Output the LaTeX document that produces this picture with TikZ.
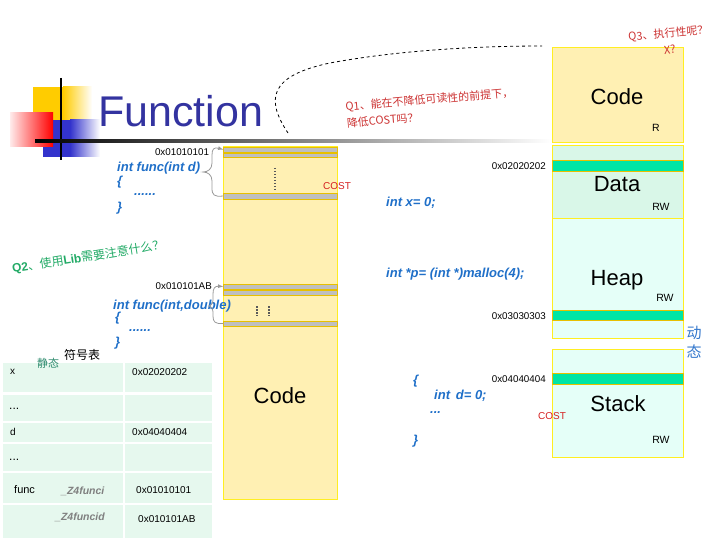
\documentclass[tikz,border=0pt]{standalone}
\usepackage{fontspec}
\setmainfont{Liberation Sans}
\newfontfamily\cjk{Noto Sans CJK SC}
\usetikzlibrary{positioning}
\definecolor{TitleBlue}{HTML}{3333A0}
\definecolor{CodeBlue}{HTML}{1F6FC8}
\definecolor{CostRed}{HTML}{D42020}
\definecolor{QRed}{HTML}{CC3333}
\definecolor{QGreen}{HTML}{22AA66}
\definecolor{StaticGreen}{HTML}{2E8B6E}
\definecolor{DynBlue}{HTML}{3377CC}
\definecolor{CodeFill}{HTML}{FFF0B3}
\definecolor{DataFill}{HTML}{D9F7E8}
\definecolor{HeapFill}{HTML}{E5FFF8}
\definecolor{SegEdge}{HTML}{FFEE22}
\definecolor{MarkGreen}{HTML}{00E5A5}
\definecolor{MarkEdge}{HTML}{E8C000}
\definecolor{CellFill}{HTML}{E6F8EE}
\definecolor{LogoYellow}{HTML}{FFCC00}
\definecolor{LogoBlue}{HTML}{3333CC}
\definecolor{LogoRed}{HTML}{FF0000}

\begin{document}
\begin{tikzpicture}[x=1pt, y=-1pt,
                    memseg/.style = { draw=SegEdge, line width=1pt, minimum width=131pt, inner sep=0pt },
                    markbar/.style = { fill=MarkGreen, draw=MarkEdge, minimum width=131pt, inner sep=0pt },
                    graybar/.style = { fill=gray!50, draw=MarkEdge, minimum width=114pt, inner sep=0pt },
                    segname/.style = { font=\fontsize{22}{26}\selectfont, inner sep=0pt },
                    rw/.style = { font=\fontsize{10.5}{12}\selectfont, inner sep=0pt },
                    addr/.style = { font=\fontsize{9.8}{11}\selectfont, inner sep=0pt },
                    srccode/.style = { CodeBlue, anchor=west, font=\fontsize{13}{15}\selectfont\bfseries\itshape, inner sep=0pt },
                    cost/.style = { CostRed, font=\fontsize{10}{12}\selectfont, inner sep=0pt },
                    qred/.style = { QRed, font=\cjk\fontsize{11}{16.5}\selectfont, inner sep=0pt },
                    tabtext/.style = { anchor=west, font=\fontsize{10}{12}\selectfont, inner sep=0pt },
                    mangled/.style = { tabtext, gray, font=\fontsize{10.5}{12}\selectfont\bfseries\itshape },
                    dotline/.style = { gray!70!black, line width=2pt, dash pattern=on 1.5pt off 1.5pt },
                    brc/.style = { gray!80, thick, -latex }]
  \useasboundingbox (0,0) rectangle (720,540);

  % logo and title rule
  \fill[LogoYellow] (33,87) rectangle (63,120);
  \shade[left color=LogoYellow, right color=white] (63,87) rectangle (92,120);
  \fill[LogoBlue] (43,120) rectangle (70,157);
  \shade[left color=LogoBlue, right color=white] (70,120) rectangle (100,157);
  \shade[left color=red!8, right color=LogoRed] (10,113) rectangle (53,147);
  \draw[line width=1.8pt] (61,78) -- (61,160);
  \shade[left color=black, right color=white] (35,140) rectangle (552,142.2);
  \node[anchor=base west, TitleBlue, font=\fontsize{43}{48}\selectfont, inner sep=0pt] (title) at (98,127) {Function};

  % dashed hint
  \coordinate (dashA) at (288,133);
  \coordinate (dashB) at (542,46);
  \draw[dashed, thick] (dashA) .. controls (266,100) and (268,76) .. (330,63) .. controls (400,50) and (480,46) .. (dashB);
  \node[qred, rotate=5, anchor=west, align=left] (q1) at (346,115) {Q1、能在不降低可读性的前提下，\\降低COST吗？};

  % memory segments
  \node[memseg, fill=CodeFill, minimum height=95pt] (codeseg) at (617.5,95.5) {};
  \node[memseg, fill=DataFill, minimum height=73pt] (dataseg) at (617.5,182.5) {};
  \node[memseg, fill=HeapFill, minimum height=119pt] (heapseg) at (617.5,278.5) {};
  \node[memseg, fill=HeapFill, minimum height=108pt] (stackseg) at (617.5,403) {};
  \node[markbar, minimum height=11pt] (dmark) at (617.5,165.5) {};
  \node[markbar, minimum height=10pt] (hmark) at (617.5,315) {};
  \node[markbar, minimum height=11pt] (smark) at (617.5,378.5) {};
  \node[qred, rotate=5, align=center] (q3) at (669,41) {Q3、执行性呢？\\X?};

  \node[segname] (codename) at (617,97) {Code};
  \node[rw] (coder) at (656,128) {R};
  \node[segname] (dataname) at (617,184) {Data};
  \node[rw] (datarw) at (661,207) {RW};
  \node[segname] (heapname) at (617,280) {Heap};
  \node[rw] (heaprw) at (665,298) {RW};
  \node[segname] (stackname) at (618,404) {Stack};
  \node[rw] (stackrw) at (661,440) {RW};

  \node[addr, anchor=east] (addrdata) at (546,166) {0x02020202};
  \node[addr, anchor=east] (addrheap) at (546,316) {0x03030303};
  \node[addr, anchor=east] (addrstack) at (546,379) {0x04040404};
  \node[DynBlue, font=\cjk\fontsize{15}{19}\selectfont, align=center, inner sep=0pt] (dyn) at (694,342) {动\\态};

  % code column
  \node[fill=CodeFill, draw=SegEdge, minimum width=114pt, minimum height=353pt, inner sep=0pt] (codecol) at (280.5,322.5) {};
  \node[graybar, minimum height=5pt] (b1) at (280.5,149.5) {};
  \node[graybar, minimum height=4.5pt] (b2) at (280.5,155) {};
  \node[graybar, minimum height=6pt] (b3) at (280.5,196) {};
  \node[graybar, minimum height=5pt] (b4) at (280.5,286.5) {};
  \node[graybar, minimum height=5pt] (b5) at (280.5,292.5) {};
  \node[graybar, minimum height=5pt] (b6) at (280.5,323.5) {};
  \draw[dotline] (275,168) -- (275,190);
  \draw[dotline] (257,306) -- (257,316);
  \draw[dotline] (269,306) -- (269,316);
  \node[segname] (colname) at (280,396) {Code};
  \node[cost] (cost1) at (337,186) {COST};

  % first function
  \node[addr] (addrf1) at (182,152) {0x01010101};
  \node[srccode] (f1sig) at (117,168) {int func(int d)};
  \node[srccode] (f1open) at (117,182) {\{};
  \node[srccode] (f1body) at (134,195) {......};
  \node[srccode] (f1close) at (117,208) {\}};
  \coordinate (tip1) at (203,172);
  \draw[brc] (b3.west) .. controls (214,197) and (212,195) .. (212,188) -- (212,181)
    .. controls (212,175) and (208,172) .. (tip1) .. controls (208,172) and (212,169) .. (212,163)
    -- (212,155) .. controls (212,149) and (214,147) .. (b1.west);

  % second function
  \node[addr, anchor=east] (addrf2) at (212,286) {0x010101AB};
  \node[srccode] (f2sig) at (113,306) {int func(int,double)};
  \node[srccode] (f2open) at (115,318) {\{};
  \node[srccode] (f2body) at (129,331) {......};
  \node[srccode] (f2close) at (115,343) {\}};
  \coordinate (tip2) at (209,306);
  \draw[brc] (b6.west) .. controls (215,324) and (213,322) .. (213,316) -- (213,312)
    .. controls (213,308) and (210,306) .. (tip2) .. controls (210,306) and (213,304) .. (213,300)
    -- (213,294) .. controls (213,288) and (215,286) .. (b4.west);

  \node[rotate=9, anchor=west, QGreen, font=\fontsize{12}{14}\selectfont, inner sep=0pt] (q2) at (12,269)
    {\textbf{Q2}{\cjk 、使用}\textbf{Lib}{\cjk 需要注意什么？}};

  % right code
  \node[srccode] (xdecl) at (386,203) {int x= 0;};
  \node[srccode] (pdecl) at (386,274) {int *p= (int *)malloc(4);};
  \node[srccode] (bopen) at (413,381) {\{};
  \node[srccode] (ddecl) at (434,396) {int\, d= 0;};
  \node[srccode] (bdots) at (430,413) {...};
  \node[srccode] (bclose) at (413,441) {\}};
  \node[cost] (cost2) at (552,416) {COST};

  % symbol table
  \foreach \ya/\yb in {363/392, 395/421, 423/442, 444/471, 473/503, 505/538} {
    \fill[CellFill] (3,\ya) rectangle (123,\yb);
    \fill[CellFill] (125,\ya) rectangle (212,\yb);
  }
  \node[font=\cjk\fontsize{12}{14}\selectfont, inner sep=0pt] (symtab) at (82,355) {符号表};
  \node[StaticGreen, font=\cjk\fontsize{11}{13}\selectfont, inner sep=0pt] (static) at (48,363) {静态};
  \node[tabtext] (tx) at (10,372) {x};
  \node[tabtext] (tdots1) at (9,409) {\fontsize{12}{14}\selectfont ...};
  \node[tabtext] (td) at (10,432) {d};
  \node[tabtext] (tdots2) at (9,460) {\fontsize{12}{14}\selectfont ...};
  \node[tabtext, font=\fontsize{11}{13}\selectfont] (tfunc) at (14,490) {func};
  \node[mangled] (tmi) at (61,491) {\_Z4funci};
  \node[mangled] (tmid) at (55,517) {\_Z4funcid};
  \node[tabtext] (ax) at (132,372) {0x02020202};
  \node[tabtext] (ad) at (132,432) {0x04040404};
  \node[tabtext] (af1) at (136,490) {0x01010101};
  \node[tabtext] (af2) at (138,519) {0x010101AB};
\end{tikzpicture}
\end{document}
